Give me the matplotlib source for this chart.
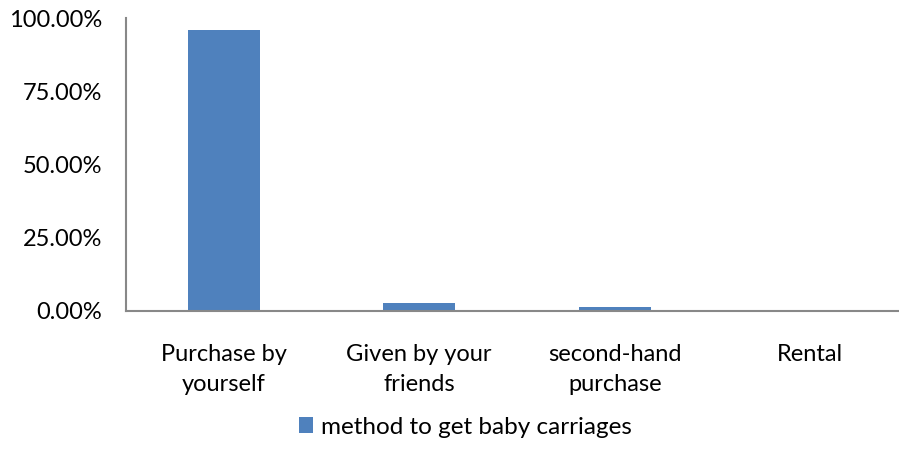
import matplotlib
matplotlib.use("Agg")
import matplotlib.pyplot as plt
from matplotlib.ticker import FuncFormatter, FixedLocator
from matplotlib.patches import Patch

categories = ["Purchase by\nyourself", "Given by your\nfriends", "second-hand\npurchase", "Rental"]
shares = [96.0, 2.7, 1.3, 0.0]
y_ticks = [0, 25, 50, 75, 100]
series_name = "method to get baby carriages"

bar_color = "#4F81BD"
axis_color = "#888888"

plt.rcParams["font.family"] = ["Lato", "DejaVu Sans"]

W, H = 899, 470
fig = plt.figure(figsize=(W / 100, H / 100), dpi=100)
ax = fig.add_axes([126 / W, (H - 310.7) / H, (908 - 126) / W, (310.7 - 18.3) / H])

x = list(range(len(categories)))
ax.bar(x, shares, width=0.368, color=bar_color, zorder=2)

ax.set_xlim(-0.5, len(categories) - 0.5)
ax.set_ylim(0, 100)
ax.yaxis.set_major_locator(FixedLocator(y_ticks))
ax.yaxis.set_major_formatter(FuncFormatter(lambda v, p: f"{v:.2f}%"))
ax.set_xticks(x)
ax.set_xticklabels(categories, linespacing=1.5)

for side in ("top", "right"):
    ax.spines[side].set_visible(False)
for side in ("left", "bottom"):
    ax.spines[side].set_color(axis_color)
    ax.spines[side].set_linewidth(1.5)

ax.tick_params(axis="y", length=0, pad=17, labelsize=17, labelcolor="#000000")
ax.tick_params(axis="x", length=0, pad=24, labelsize=17, labelcolor="#000000")

handle = Patch(facecolor=bar_color, edgecolor="none")
fig.legend([handle], [series_name], loc="center", bbox_to_anchor=(465 / W, 1 - 427 / H),
           frameon=False, fontsize=17.5, handlelength=0.6, handleheight=0.6,
           handletextpad=0.3)

fig.savefig("out.png", dpi=100)
